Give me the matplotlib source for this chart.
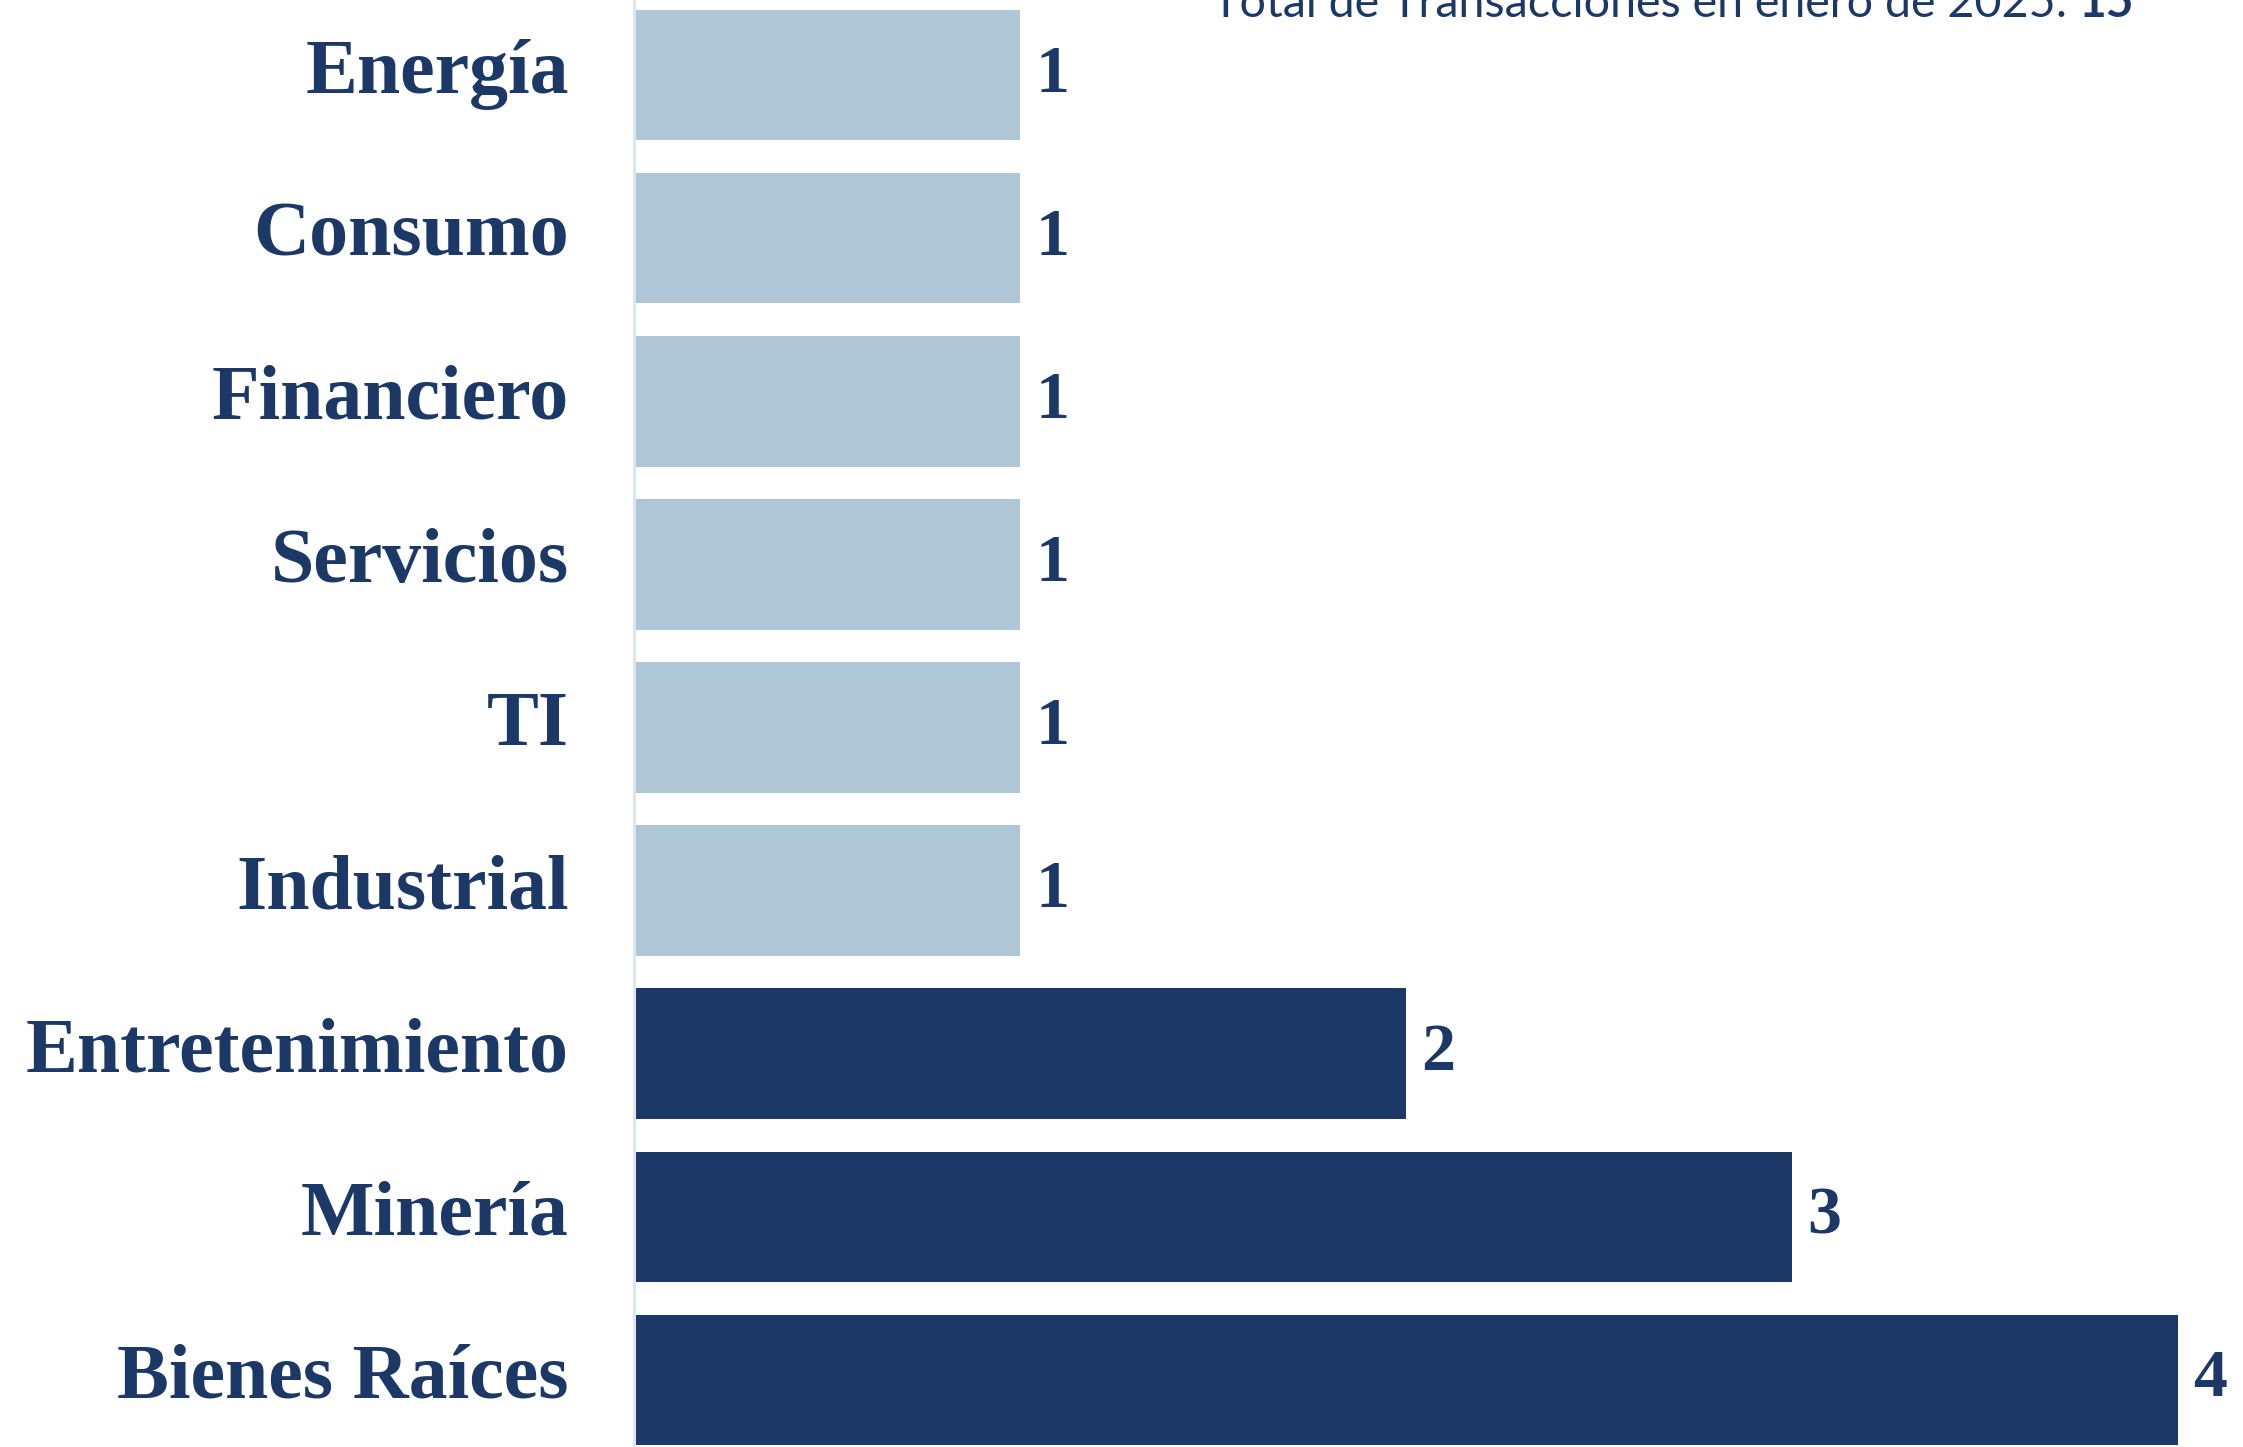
import matplotlib
matplotlib.use("Agg")
from matplotlib import pyplot as plt

sectores = ["Bienes Raíces", "Minería", "Entretenimiento", "Industrial", "TI",
            "Servicios", "Financiero", "Consumo", "Energía"]
transacciones = [4, 3, 2, 1, 1, 1, 1, 1, 1]
total = 15
titulo = "Total de Transacciones en enero de 2025: "

oscuro = "#1b3866"
claro = "#aec6d6"
colores = [oscuro if v > 1 else claro for v in transacciones]

fig = plt.figure(figsize=(22.43, 14.47), dpi=100)
ax = fig.add_axes([634 / 2243, 0, 1544 / 2243, 1])

ax.barh(range(len(sectores)), transacciones, height=0.8, color=colores)
ax.set_xlim(0, 4)
ax.set_ylim(-0.412, 8.461)

for s in ["top", "right", "bottom"]:
    ax.spines[s].set_visible(False)
ax.spines["left"].set_color("#dce6f3")
ax.spines["left"].set_linewidth(2.2)
ax.set_xticks([])
ax.set_yticks([])

serif = dict(family=["Liberation Serif", "DejaVu Serif"], weight="bold", color=oscuro)

for i, (nombre, v) in enumerate(zip(sectores, transacciones)):
    ax.annotate(nombre, xy=(0, i - 0.108), xycoords=("axes fraction", "data"),
                xytext=(-47, 0), textcoords="offset points",
                ha="right", va="baseline", fontsize=56, annotation_clip=False, **serif)
    ax.annotate(str(v), xy=(v, i), xytext=(11, 0), textcoords="offset points",
                ha="left", va="center", fontsize=49, annotation_clip=False, **serif)

t1 = fig.text(1212 / 2243, 1 - 17 / 1447, titulo, ha="left", va="baseline",
              fontsize=33.6, family=["Lato", "DejaVu Sans"], weight="normal", color=oscuro)
plt.annotate(str(total), xy=(1, 0), xycoords=t1, ha="left", va="bottom",
             fontsize=34.5, family=["Lato", "DejaVu Sans"], weight="bold", color=oscuro,
             annotation_clip=False)

fig.savefig("out.png", dpi=100)
